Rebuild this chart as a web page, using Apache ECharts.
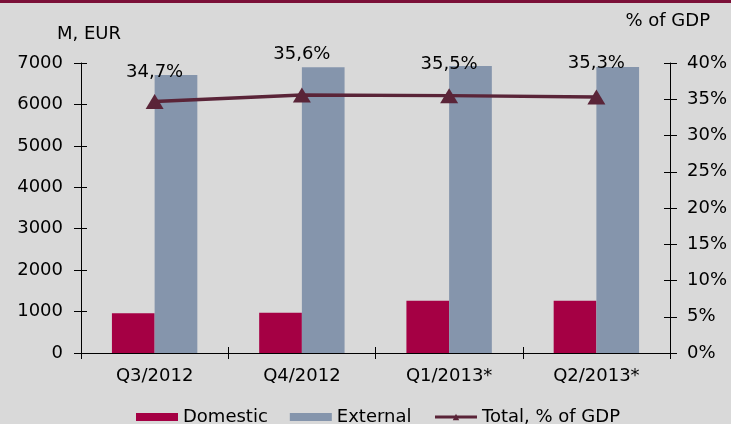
<!DOCTYPE html>
<html>
<head>
<meta charset="utf-8">
<script src="https://cdn.jsdelivr.net/npm/echarts@6/dist/echarts.min.js"></script>
<style>
  html, body { margin: 0; padding: 0; background: #d9d9d9; }
  #chart { width: 731px; height: 424px; border-top: 3px solid #7b1038; box-sizing: border-box; }
</style>
</head>
<body>
<div id="chart"></div>
<script>
const quarters = ['Q3/2012', 'Q4/2012', 'Q1/2013*', 'Q2/2013*'];
const domestic = [958, 973, 1262, 1262];
const external = [6710, 6895, 6930, 6905];
const totalPct = [34.7, 35.6, 35.5, 35.3];
const eurTicks = [0, 7000, 1000];
const pctTicks = [0, 40, 5];
const labelLift = [13, 24, 15, 17];

const font = 'DejaVu Sans, Verdana, sans-serif';
const fs = 18;
const lineColor = '#5a2438';

const myChart = echarts.init(document.getElementById('chart'));

const yBase = {
  type: 'value',
  splitLine: { show: false },
  axisLine: { show: true, lineStyle: { color: '#000', width: 1 } },
  axisTick: { show: true, length: 7, lineStyle: { color: '#000' } },
  axisLabel: { color: '#000', fontSize: fs, fontFamily: font, margin: 18 }
};

// extra tick-only axes so ticks cross the axis lines like in the original
const tickOnly = {
  axisLine: { show: false },
  axisLabel: { show: false },
  splitLine: { show: false },
  axisTick: { show: true, inside: true, length: 6, lineStyle: { color: '#000' } }
};

const option = {
  backgroundColor: '#d9d9d9',
  animation: false,
  grid: { left: 81, right: 61, top: 60, bottom: 71 },
  legend: {
    bottom: -7,
    left: 131,
    itemWidth: 42,
    itemHeight: 8,
    itemGap: 22,
    textStyle: { color: '#000', fontSize: fs, fontFamily: font },
    data: [
      { name: 'Domestic', icon: 'rect' },
      { name: 'External', icon: 'rect' },
      { name: 'Total, % of GDP', lineStyle: { width: 3 } }
    ]
  },
  xAxis: [
    {
      type: 'category',
      data: quarters,
      axisLine: { lineStyle: { color: '#000' } },
      axisTick: { show: true, length: 6, lineStyle: { color: '#000' } },
      axisLabel: { color: '#000', fontSize: fs, fontFamily: font, margin: 14 }
    },
    Object.assign({ type: 'category', data: quarters, position: 'bottom' }, tickOnly)
  ],
  yAxis: [
    Object.assign({}, yBase, {
      min: eurTicks[0], max: eurTicks[1], interval: eurTicks[2],
      name: 'M, EUR',
      nameGap: 20,
      nameTextStyle: { color: '#000', fontSize: fs, fontFamily: font, align: 'left', padding: [0, 0, 0, -24] },
      axisLabel: { color: '#000', fontSize: fs, fontFamily: font, margin: 18, formatter: (v) => String(v) }
    }),
    Object.assign({}, yBase, {
      min: pctTicks[0], max: pctTicks[1], interval: pctTicks[2],
      position: 'right',
      name: '% of GDP',
      nameGap: 33,
      nameTextStyle: { color: '#000', fontSize: fs, fontFamily: font, align: 'right', padding: [0, -40, 0, 0] },
      axisLabel: { color: '#000', fontSize: fs, fontFamily: font, margin: 17, formatter: '{value}%' }
    }),
    Object.assign({ type: 'value', min: eurTicks[0], max: eurTicks[1], interval: eurTicks[2], position: 'left' }, tickOnly),
    Object.assign({ type: 'value', min: pctTicks[0], max: pctTicks[1], interval: pctTicks[2], position: 'right' }, tickOnly)
  ],
  series: [
    {
      name: 'Domestic',
      type: 'bar',
      data: domestic,
      barGap: '0%',
      barCategoryGap: '42%',
      itemStyle: { color: '#a50044' }
    },
    {
      name: 'External',
      type: 'bar',
      data: external,
      itemStyle: { color: '#8595ac' }
    },
    {
      name: 'Total, % of GDP',
      type: 'line',
      yAxisIndex: 1,
      data: totalPct.map((v, i) => ({
        value: v,
        label: { distance: labelLift[i] }
      })),
      symbol: 'triangle',
      symbolSize: [18, 15],
      lineStyle: { color: lineColor, width: 3.5 },
      itemStyle: { color: lineColor },
      label: {
        show: true,
        position: 'top',
        color: '#000',
        fontSize: fs,
        fontFamily: font,
        formatter: (p) => p.value.toFixed(1).replace('.', ',') + '%'
      }
    }
  ]
};

myChart.setOption(option);
</script>
</body>
</html>
